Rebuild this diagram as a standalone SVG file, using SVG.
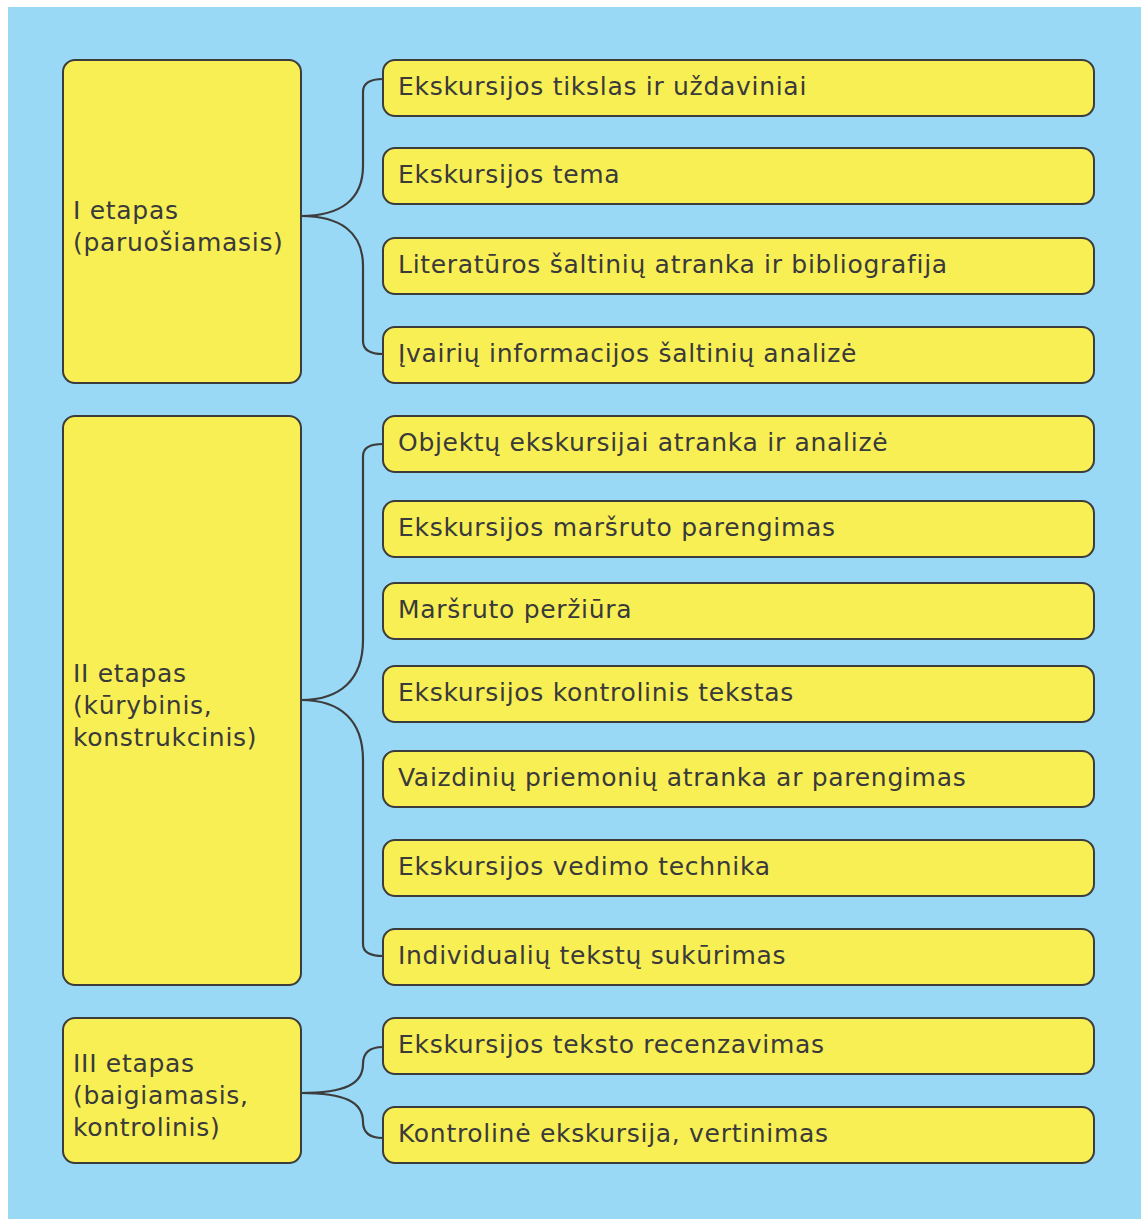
<svg xmlns="http://www.w3.org/2000/svg" width="1141" height="1219" viewBox="0 0 1141 1219">
<style>
.bg{fill:#99d9f5}
.n{fill:#f8ef55;stroke:#3c3c3c;stroke-width:2}
.t{font-family:"DejaVu Sans",sans-serif;font-size:25px;letter-spacing:0.7px;fill:#3a3a3a}
.c{fill:none;stroke:#3c3c3c;stroke-width:2.2}
</style>
<rect class="bg" x="8" y="7" width="1133" height="1212"/>
<g id="connectors">
<path class="c" d="M301,216 C340,216 363,200 363,166 L363,92 Q363,79 383,79"/>
<path class="c" d="M301,216 C340,216 363,232 363,266 L363,341 Q363,354 383,354"/>
<path class="c" d="M301,700 C340,700 363,680 363,640 L363,456 Q363,444 383,444"/>
<path class="c" d="M301,700 C340,700 363,720 363,760 L363,944 Q363,956 383,956"/>
<path class="c" d="M301,1093 C345,1093 363,1084 363,1064 Q363,1047 383,1047"/>
<path class="c" d="M301,1093 C345,1093 363,1102 363,1122 Q363,1138 383,1138"/>
</g>
<g id="stage1"><rect class="n" x="63" y="60" width="238" height="323" rx="12"/><text class="t" x="73" y="219">I etapas</text><text class="t" x="73" y="251">(paruošiamasis)</text></g>
<g id="stage2"><rect class="n" x="63" y="416" width="238" height="569" rx="12"/><text class="t" x="73" y="682">II etapas</text><text class="t" x="73" y="714">(kūrybinis,</text><text class="t" x="73" y="746">konstrukcinis)</text></g>
<g id="stage3"><rect class="n" x="63" y="1018" width="238" height="145" rx="12"/><text class="t" x="73" y="1072">III etapas</text><text class="t" x="73" y="1104">(baigiamasis,</text><text class="t" x="73" y="1136">kontrolinis)</text></g>
<g id="s1a"><rect class="n" x="383" y="60" width="711" height="56" rx="12"/><text class="t" x="398" y="95">Ekskursijos tikslas ir uždaviniai</text></g>
<g id="s1b"><rect class="n" x="383" y="148" width="711" height="56" rx="12"/><text class="t" x="398" y="183">Ekskursijos tema</text></g>
<g id="s1c"><rect class="n" x="383" y="238" width="711" height="56" rx="12"/><text class="t" x="398" y="273">Literatūros šaltinių atranka ir bibliografija</text></g>
<g id="s1d"><rect class="n" x="383" y="327" width="711" height="56" rx="12"/><text class="t" x="398" y="362">Įvairių informacijos šaltinių analizė</text></g>
<g id="s2a"><rect class="n" x="383" y="416" width="711" height="56" rx="12"/><text class="t" x="398" y="451">Objektų ekskursijai atranka ir analizė</text></g>
<g id="s2b"><rect class="n" x="383" y="501" width="711" height="56" rx="12"/><text class="t" x="398" y="536">Ekskursijos maršruto parengimas</text></g>
<g id="s2c"><rect class="n" x="383" y="583" width="711" height="56" rx="12"/><text class="t" x="398" y="618">Maršruto peržiūra</text></g>
<g id="s2d"><rect class="n" x="383" y="666" width="711" height="56" rx="12"/><text class="t" x="398" y="701">Ekskursijos kontrolinis tekstas</text></g>
<g id="s2e"><rect class="n" x="383" y="751" width="711" height="56" rx="12"/><text class="t" x="398" y="786">Vaizdinių priemonių atranka ar parengimas</text></g>
<g id="s2f"><rect class="n" x="383" y="840" width="711" height="56" rx="12"/><text class="t" x="398" y="875">Ekskursijos vedimo technika</text></g>
<g id="s2g"><rect class="n" x="383" y="929" width="711" height="56" rx="12"/><text class="t" x="398" y="964">Individualių tekstų sukūrimas</text></g>
<g id="s3a"><rect class="n" x="383" y="1018" width="711" height="56" rx="12"/><text class="t" x="398" y="1053">Ekskursijos teksto recenzavimas</text></g>
<g id="s3b"><rect class="n" x="383" y="1107" width="711" height="56" rx="12"/><text class="t" x="398" y="1142">Kontrolinė ekskursija, vertinimas</text></g>
</svg>
